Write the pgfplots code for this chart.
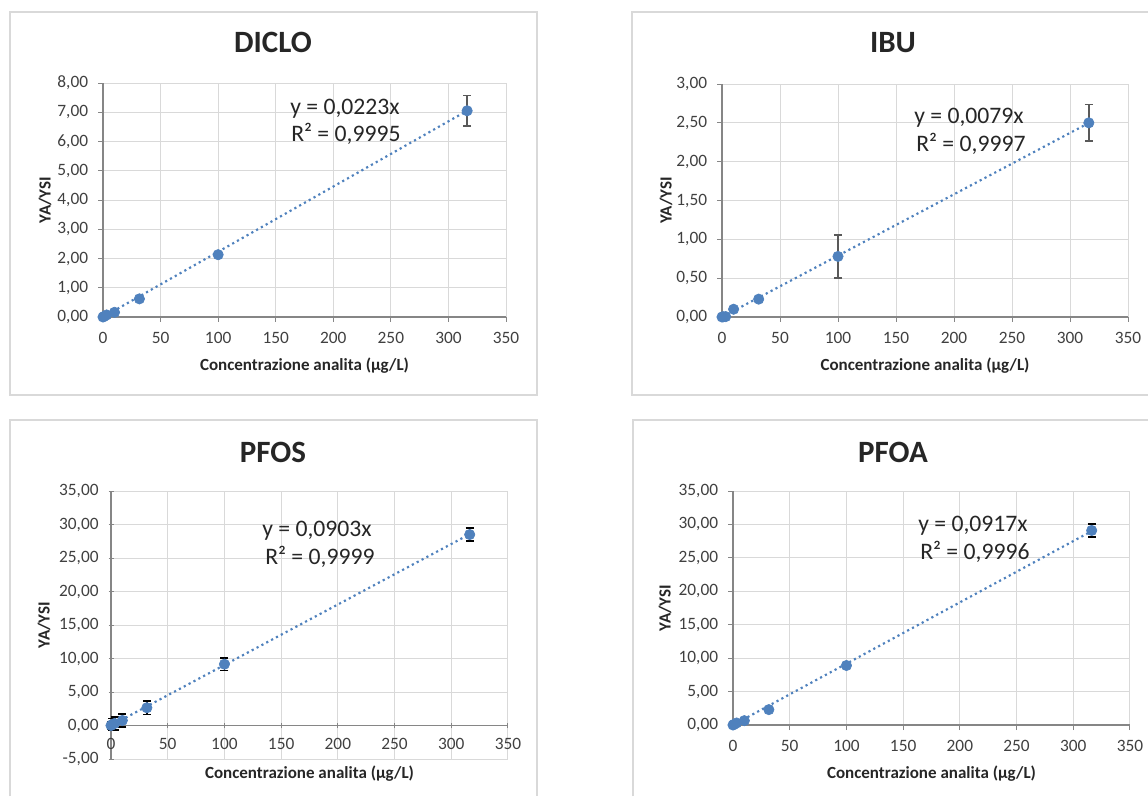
\documentclass[border=0pt]{standalone}
\usepackage{pgfplots}
\pgfplotsset{compat=1.18}
\usepackage{fontspec}
\setmainfont{Carlito}
\definecolor{xlblue}{HTML}{4F81BD}
\definecolor{gridc}{HTML}{D9D9D9}
\definecolor{axc}{HTML}{868686}
\definecolor{txt}{HTML}{404040}
\definecolor{ttl}{HTML}{262626}
\definecolor{ebgray}{HTML}{595959}

\pgfplotsset{
  xlstyle/.style={
    scale only axis, clip=false,
    xmin=0, xmax=350, xtick={0,50,...,350},
    axis lines=left, axis line style={-, draw=axc, line width=0.7pt},
    grid=major, major grid style={draw=gridc, line width=0.6pt},
    tick align=outside, major tick length=3pt, tick style={draw=axc, line width=0.6pt},
    tick label style={font=\fontsize{10.4}{12}\selectfont, text=txt},
    yticklabel style={xshift=-2.4pt},
    xticklabel style={yshift=-2.6pt},
    yticklabel={\pgfmathprintnumber[fixed,fixed zerofill,precision=2,use comma,assume math mode=true]{\tick}},
    xticklabel={\pgfmathprintnumber[assume math mode=true]{\tick}},
    hide obscured x ticks=false, hide obscured y ticks=false,
  },
  trend/.style={xlblue, line width=1.3pt, dash pattern=on 1.3pt off 2pt, no marks},
  pts/.style={only marks, mark=*, mark size=3.1pt, mark options={draw=xlblue, fill=xlblue},
    error bars/.cd, y dir=both, y explicit, error mark=-,
    error bar style={line width=0.9pt, draw=#1},
    error mark options={rotate=90, line width=0.9pt, mark size=2.4pt, draw=#1}},
}
\tikzset{
  ttlfont/.style={font=\fontsize{18.6}{20}\selectfont\bfseries, text=ttl},
  eqfont/.style={font=\fontsize{14.2}{17}\selectfont, text=black!85, anchor=base west, inner sep=0pt},
  lblfont/.style={font=\fontsize{10.2}{12}\selectfont\bfseries, text=ttl},
}

\begin{document}
\begin{tikzpicture}
\useasboundingbox (0,0) rectangle (688.8pt,477.6pt);
% chart frames
\draw[gridc, line width=0.8pt] (6pt,240.6pt) rectangle (322.2pt,470.4pt);
\draw[gridc, line width=0.8pt] (688.8pt,470.4pt) -- (379.2pt,470.4pt) -- (379.2pt,240.6pt) -- (688.8pt,240.6pt);
\draw[gridc, line width=0.8pt] (6pt,0pt) -- (6pt,225.6pt) -- (322.2pt,225.6pt) -- (322.2pt,0pt);
\draw[gridc, line width=0.8pt] (379.8pt,0pt) -- (379.8pt,225.6pt) -- (688.8pt,225.6pt);

% ---------------- DICLO
\begin{axis}[xlstyle, at={(61.8pt,287.4pt)}, anchor=south west, width=241.8pt, height=140.4pt,
  ymin=0, ymax=8, ytick={0,1,...,8}]
\addplot[trend] coordinates {(0,0) (316.23,7.052)};
\addplot[pts=ebgray] coordinates {
 (0,0) +- (0,0)
 (1,0.02) +- (0,0)
 (3.16,0.07) +- (0,0)
 (10,0.16) +- (0,0)
 (31.62,0.62) +- (0,0)
 (100,2.13) +- (0,0)
 (316.23,7.05) +- (0,0.52)
};
\end{axis}
\node[ttlfont, anchor=base] at (163.8pt,445.8pt) {DICLO};
\node[eqfont] at (174pt,408.6pt) {y = 0,0223x};
\node[eqfont] at (174.6pt,392.4pt) {R² = 0,9995};
\node[lblfont, rotate=90] at (27pt,357.6pt) {YA/YSI};
\node[lblfont, anchor=base] at (182.7pt,255.6pt) {Concentrazione analita (µg/L)};

% ---------------- IBU
\begin{axis}[xlstyle, at={(433.2pt,287.4pt)}, anchor=south west, width=243.6pt, height=139.8pt,
  ymin=0, ymax=3, ytick={0,0.5,1,1.5,2,2.5,3}]
\addplot[trend] coordinates {(0,0) (316.23,2.498)};
\addplot[pts=ebgray] coordinates {
 (0,0) +- (0,0)
 (1,0.003) +- (0,0)
 (3.16,0.005) +- (0,0)
 (10,0.10) +- (0,0)
 (31.62,0.23) +- (0,0)
 (100,0.78) +- (0,0.275)
 (316.23,2.50) +- (0,0.235)
};
\end{axis}
\node[ttlfont, anchor=base] at (535.8pt,445.8pt) {IBU};
\node[eqfont] at (548.4pt,403.2pt) {y = 0,0079x};
\node[eqfont] at (549.6pt,386.4pt) {R² = 0,9997};
\node[lblfont, rotate=90] at (399.6pt,357.3pt) {YA/YSI};
\node[lblfont, anchor=base] at (555pt,255.6pt) {Concentrazione analita (µg/L)};

% ---------------- PFOS
\begin{axis}[xlstyle, at={(66.6pt,22.2pt)}, anchor=south west, width=238.2pt, height=160.8pt,
  ymin=-5, ymax=35, ytick={-5,0,...,35}, axis x line=middle, axis y line=left,
  axis line style={-}, every inner x axis line/.append style={-}, every outer y axis line/.append style={-}]
\addplot[trend] coordinates {(0,0) (316.23,28.556)};
\addplot[pts=black] coordinates {
 (0,0) +- (0,0.6)
 (1,0.12) +- (0,0.9)
 (3.16,0.3) +- (0,1.0)
 (10,0.75) +- (0,0.95)
 (31.62,2.65) +- (0,1.0)
 (100,9.15) +- (0,0.95)
 (316.23,28.5) +- (0,0.95)
};
\end{axis}
\node[ttlfont, anchor=base] at (163.8pt,200.4pt) {PFOS};
\node[eqfont] at (157.2pt,156pt) {y = 0,0903x};
\node[eqfont] at (159pt,139.2pt) {R² = 0,9999};
\node[lblfont, rotate=90] at (26.4pt,102.6pt) {YA/YSI};
\node[lblfont, anchor=base] at (185.7pt,10.8pt) {Concentrazione analita (µg/L)};

% ---------------- PFOA
\begin{axis}[xlstyle, at={(439.8pt,42.6pt)}, anchor=south west, width=238.2pt, height=140.4pt,
  ymin=0, ymax=35, ytick={0,5,...,35}]
\addplot[trend] coordinates {(0,0) (316.23,28.998)};
\addplot[pts=black] coordinates {
 (0,0) +- (0,0)
 (1,0.1) +- (0,0)
 (3.16,0.3) +- (0,0.1)
 (10,0.65) +- (0,0.1)
 (31.62,2.3) +- (0,0.1)
 (100,8.9) +- (0,0.2)
 (316.23,29.1) +- (0,0.95)
};
\end{axis}
\node[ttlfont, anchor=base] at (535.8pt,200.4pt) {PFOA};
\node[eqfont] at (550.8pt,159pt) {y = 0,0917x};
\node[eqfont] at (552pt,142.2pt) {R² = 0,9996};
\node[lblfont, rotate=90] at (399pt,112.8pt) {YA/YSI};
\node[lblfont, anchor=base] at (558.9pt,10.8pt) {Concentrazione analita (µg/L)};
\end{tikzpicture}
\end{document}
